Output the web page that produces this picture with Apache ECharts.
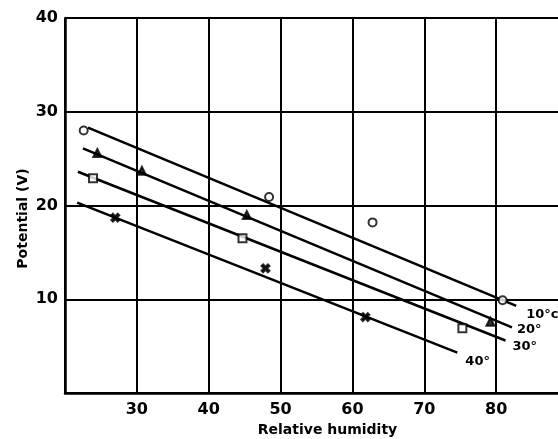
<!DOCTYPE html>
<html>
<head>
<meta charset="utf-8">
<script src="https://cdn.jsdelivr.net/npm/echarts@6/dist/echarts.min.js"></script>
<style>html,body{margin:0;padding:0;background:#fff;}#c{width:558px;height:439px;}</style>
</head>
<body>
<div id="c"></div>
<script>
// Fitted lines (start and end points)
const seriesNames = ['10°c', '20°', '30°', '40°'];
const line10 = [[23.2, 28.3], [82.8, 9.3]];
const line20 = [[22.5, 26.1], [82.2, 7.0]];
const line30 = [[21.8, 23.6], [81.3, 5.6]];
const line40 = [[21.7, 20.3], [74.6, 4.3]];
// Measured points
const pts10 = [[22.6, 28.0], [48.4, 20.9], [62.8, 18.2], [80.9, 9.9]];
const pts20 = [[24.5, 25.6], [30.7, 23.7], [45.3, 19.0], [79.2, 7.6]];
const pts30 = [[23.9, 22.9], [44.7, 16.5], [75.3, 6.9]];
const pts40 = [[27.0, 18.7], [47.9, 13.3], [61.8, 8.1]];
const xTicks = [30, 40, 50, 60, 70, 80];
const yTicks = [10, 20, 30, 40];

const FONT = 'DejaVu Sans';
const lines = [line10, line20, line30, line40];
const pts = [pts10, pts20, pts30, pts40];
const symbols = [
  'emptyCircle',
  'triangle',
  'emptyRect',
  'path://M2,0 L5,3 L8,0 L10,2 L7,5 L10,8 L8,10 L5,7 L2,10 L0,8 L3,5 L0,2 Z'
];
const labelOffsets = [[2, 9], [-3, 2], [-1, 6], [0, 9]];

const series = [];
lines.forEach((d, i) => {
  series.push({
    type: 'line',
    name: seriesNames[i],
    data: d,
    showSymbol: false,
    symbol: 'none',
    lineStyle: { color: '#000', width: 2.5 },
    silent: true,
    endLabel: {
      show: true,
      formatter: seriesNames[i],
      color: '#000',
      fontFamily: FONT,
      fontWeight: 'bold',
      fontSize: 13,
      offset: labelOffsets[i]
    },
    z: 3
  });
  series.push({
    type: 'scatter',
    name: seriesNames[i] + ' data',
    data: pts[i],
    symbol: symbols[i],
    symbolSize: 8,
    itemStyle: { color: '#000', borderColor: '#000', borderWidth: 2 },
    z: 4
  });
});

const chart = echarts.init(document.getElementById('c'), null, { renderer: 'canvas' });
chart.setOption({
  animation: false,
  backgroundColor: '#fff',
  grid: { left: 65, top: 18, right: -10, bottom: 46, containLabel: false, outerBoundsMode: 'none' },
  xAxis: {
    type: 'value',
    min: 20, max: 90, interval: 10,
    name: 'Relative humidity',
    nameLocation: 'middle',
    nameGap: 30,
    nameMoveOverlap: false,
    nameTextStyle: { color: '#000', fontFamily: FONT, fontWeight: 'bold', fontSize: 14, padding: [0, 0, 0, 22] },
    axisLine: { show: true, lineStyle: { color: '#000', width: 2.5 } },
    axisTick: { show: false },
    axisLabel: {
      color: '#000', fontFamily: FONT, fontWeight: 'bold', fontSize: 16, margin: 9,
      formatter: v => xTicks.includes(v) ? String(v) : ''
    },
    splitLine: { show: true, lineStyle: { color: '#000', width: 2 } }
  },
  yAxis: {
    type: 'value',
    min: 0, max: 40, interval: 10,
    name: 'Potential (V)',
    nameLocation: 'middle',
    nameGap: 35,
    nameMoveOverlap: false,
    nameTextStyle: { color: '#000', fontFamily: FONT, fontWeight: 'bold', fontSize: 14, padding: [0, 26, 0, 0] },
    axisLine: { show: true, lineStyle: { color: '#000', width: 2.5 } },
    axisTick: { show: false },
    axisLabel: {
      color: '#000', fontFamily: FONT, fontWeight: 'bold', fontSize: 16, margin: 7,
      formatter: v => yTicks.includes(v) ? String(v) : ''
    },
    splitLine: { show: true, lineStyle: { color: '#000', width: 2 } }
  },
  series: series
});
</script>
</body>
</html>
